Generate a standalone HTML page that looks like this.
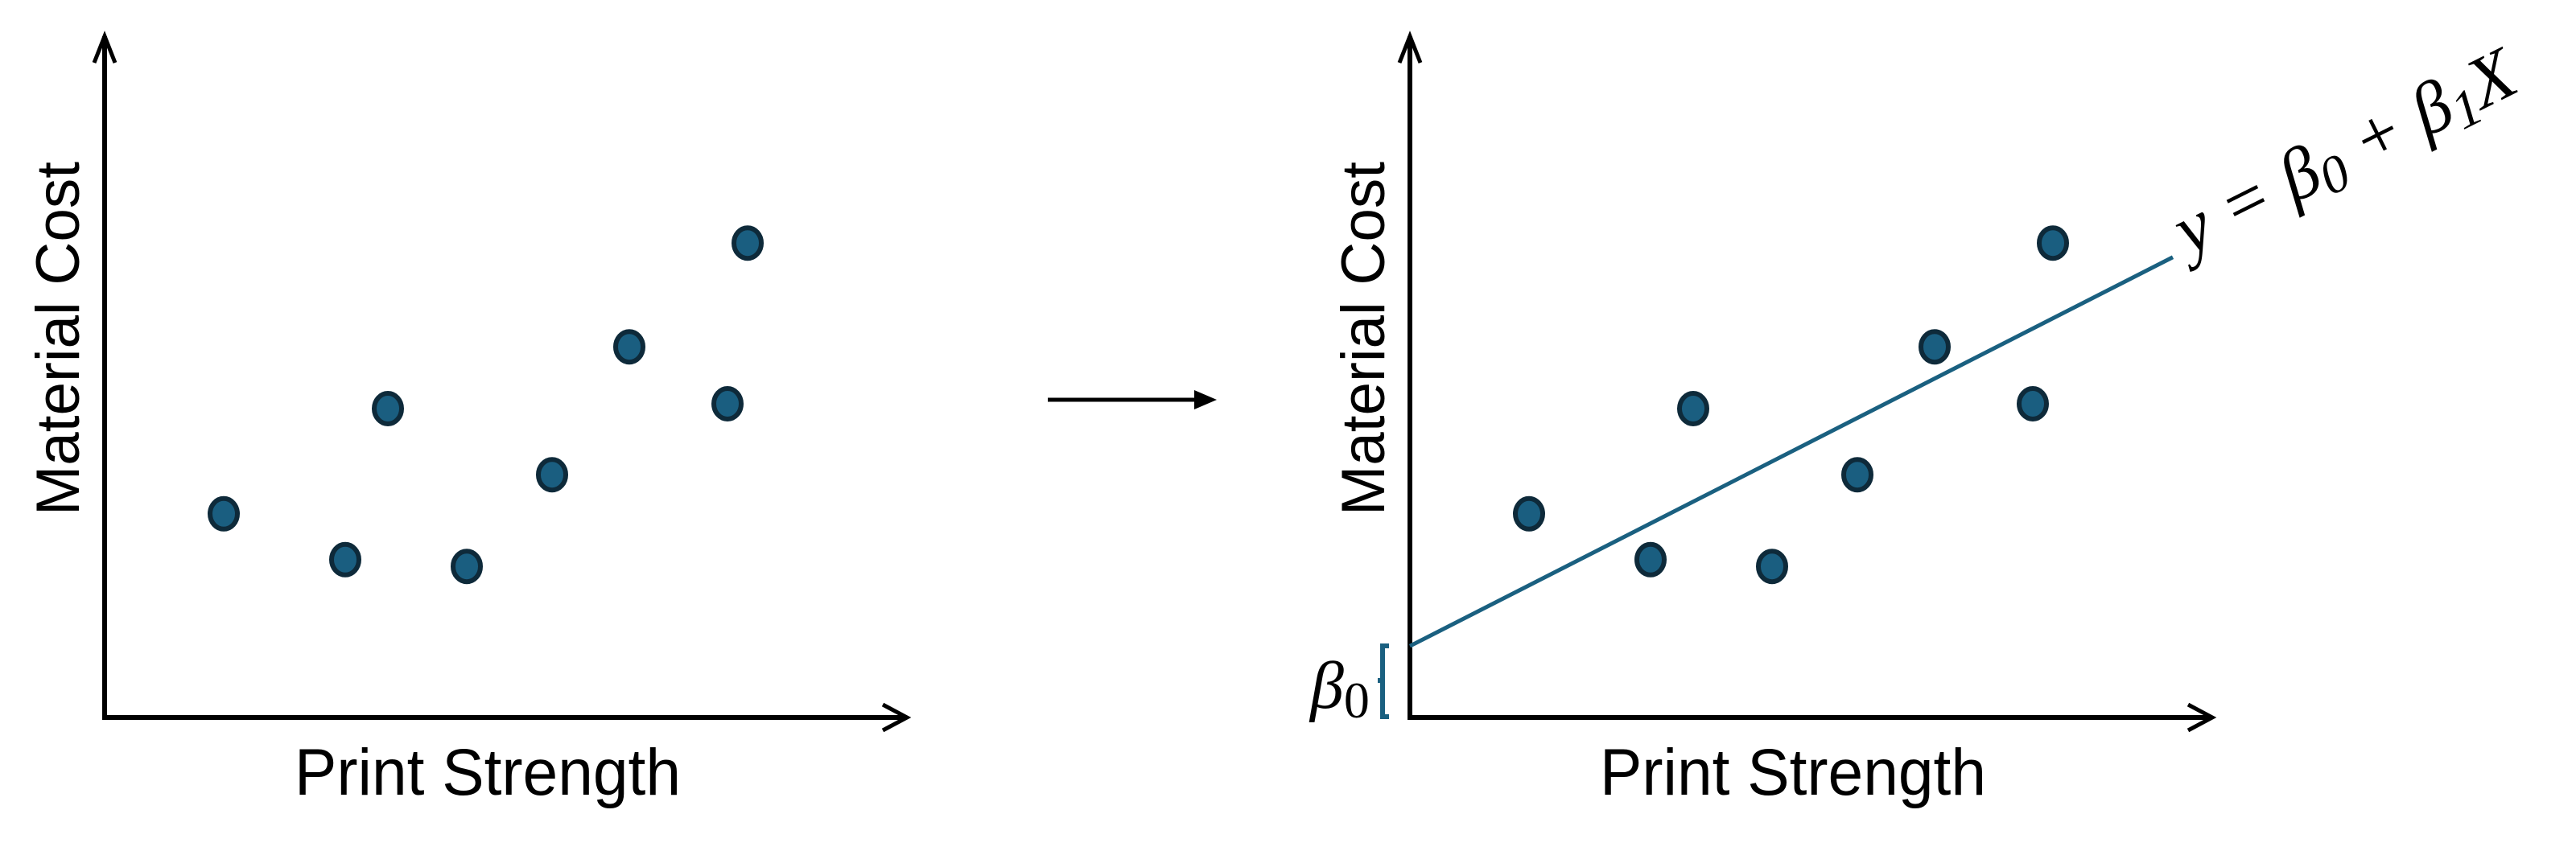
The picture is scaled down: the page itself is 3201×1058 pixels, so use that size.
<!DOCTYPE html>
<html><head><meta charset="utf-8"><style>
html,body{margin:0;padding:0;background:#fff;}
svg{display:block;}
</style></head><body>
<svg width="3201" height="1058" viewBox="0 0 3201 1058" xmlns="http://www.w3.org/2000/svg">
<g id="left"></g>
<g id="right"></g>
<g>
  <line x1="1302" y1="497" x2="1492" y2="497" stroke="#000" stroke-width="5"/>
  <polygon points="1512,497 1484,485 1484,509" fill="#000"/>
</g>
</svg>
<script>
const strengthValues = [1.48, 2.99, 3.52, 4.50, 5.56, 6.52, 7.74, 7.99];
const costValues = [4.22, 3.27, 6.40, 3.13, 5.03, 7.68, 6.50, 9.83];
const interceptValue = 1.48;
const slopeValue = 0.51;

const NS = "http://www.w3.org/2000/svg";
function mk(tag, attrs, parent) {
  const e = document.createElementNS(NS, tag);
  for (const k in attrs) e.setAttribute(k, attrs[k]);
  parent.appendChild(e);
  return e;
}
function xScale(v, ox) { return ox + v * 100; }
function yScale(v) { return 892 - v * 60; }

function drawPanel(g, ox) {
  const ax = mk('g', {}, g);
  
  
  mk('polyline', {points: `${ox},45 ${ox},892 ${ox+995},892`, fill: 'none', stroke: '#000', 'stroke-width': 6}, ax);
  mk('polyline', {points: `${ox-13},78 ${ox},45 ${ox+13},78`, fill: 'none', stroke: '#000', 'stroke-width': 5}, ax);
  mk('polyline', {points: `${ox+967},876 ${ox+997},892 ${ox+967},908`, fill: 'none', stroke: '#000', 'stroke-width': 5}, ax);
  const yt = mk('text', {x: 0, y: 0, transform: `translate(${ox-32},421) rotate(-90)`, 'text-anchor': 'middle', 'font-family': '"Liberation Sans", sans-serif', 'font-size': 76, textLength: 440, lengthAdjust: 'spacingAndGlyphs', fill: '#000'}, g);
  yt.textContent = 'Material Cost';
  
  
  const xt = mk('text', {x: ox + 476, y: 988, 'text-anchor': 'middle', 'font-family': '"Liberation Sans Narrow", "Liberation Sans", sans-serif', 'font-size': 82, textLength: 480, lengthAdjust: 'spacingAndGlyphs', fill: '#000'}, g);
  xt.textContent = 'Print Strength';
  
  
}
function drawPoints(g, ox) {
  for (let i = 0; i < strengthValues.length; i++) {
    const c = mk('ellipse', {cx: xScale(strengthValues[i], ox), cy: yScale(costValues[i]), rx: 17, ry: 19, fill: '#1a5e80', stroke: '#0e2a3a', 'stroke-width': 6}, g);
    
    
  }
}
const L = document.getElementById('left');
const R = document.getElementById('right');
drawPanel(L, 130);
drawPoints(L, 130);
drawPanel(R, 1752);
const xa = 0, xb = 9.48;
const ln = mk('line', {x1: xScale(xa, 1752), y1: yScale(interceptValue + slopeValue * xa * 100 / 60), x2: xScale(xb, 1752), y2: yScale(interceptValue + slopeValue * xb * 100 / 60), stroke: '#1a6080', 'stroke-width': 5}, R);


drawPoints(R, 1752);
const br = mk('path', {d: 'M1726,803 L1718,803 L1718,846 L1712,846 M1718,846 L1718,891 L1726,891', fill: 'none', stroke: '#1a6080', 'stroke-width': 6}, R);


const b0 = mk('text', {x: 1628, y: 880, 'font-family': '"Liberation Serif", serif', 'font-size': 84, 'font-style': 'italic', fill: '#000'}, R);
b0.innerHTML = 'β<tspan font-style="normal" font-size="64" dy="12">0</tspan>';


const eq = mk('text', {x: 0, y: 0, transform: 'translate(2720,318) rotate(-26.5)', 'font-family': '"Liberation Serif", serif', 'font-size': 90, 'font-style': 'italic', fill: '#000'}, R);
eq.innerHTML = 'y = β<tspan font-size="66" dy="12">0</tspan><tspan dy="-12"> + β</tspan><tspan font-size="66" dy="12">1</tspan><tspan dy="-12">X</tspan>';


</script>
</body></html>
